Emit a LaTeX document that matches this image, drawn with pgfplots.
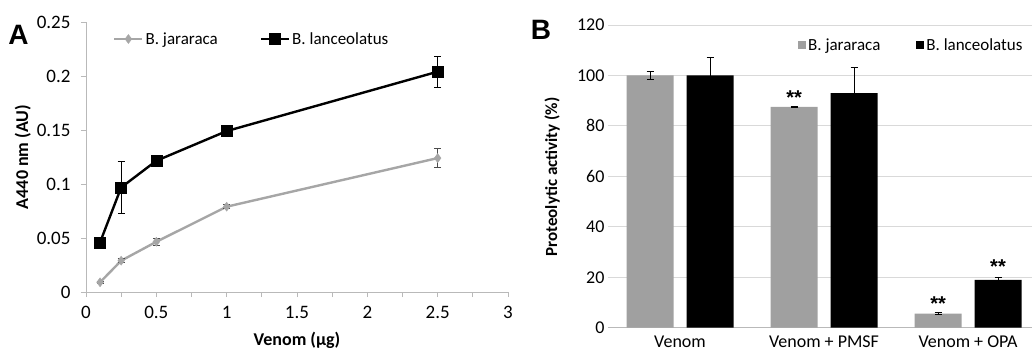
\documentclass[border=0pt]{standalone}
\usepackage{fontspec}
\setmainfont{Carlito}
\newfontfamily\arialfont{Liberation Sans}
\usepackage{pgfplots}
\pgfplotsset{compat=1.18}
\definecolor{linegray}{RGB}{166,166,166}
\definecolor{bargray}{RGB}{160,160,160}
\definecolor{axisgray}{RGB}{185,185,185}
\definecolor{gridgray}{RGB}{217,217,217}
\newcommand{\fs}{\fontsize{17}{20}\selectfont}
\newcommand{\fsa}{\fontsize{19}{22}\selectfont}
\newcommand{\fsb}{\fontsize{18}{21}\selectfont}
\newcommand{\fast}{\arialfont\fontsize{20}{22}\selectfont\bfseries}
\begin{document}
\begin{tikzpicture}
% ---------------- Panel A ----------------
\begin{axis}[
  at={(86pt,58pt)}, anchor=south west,
  scale only axis, width=422pt, height=270pt,
  xmin=0, xmax=3, ymin=0, ymax=0.25,
  axis x line*=bottom, axis y line*=left,
  axis line style={draw=axisgray, line width=0.8pt},
  xtick={0,0.5,1,1.5,2,2.5,3},
  xticklabels={0,0.5,1,1.5,2,2.5,3},
  minor xtick={0.25,0.75,1.25,1.75,2.25,2.75},
  ytick={0,0.05,0.1,0.15,0.2,0.25},
  yticklabels={0,0.05,0.1,0.15,0.2,0.25},
  tick align=outside, major tick length=5pt, minor tick length=5pt,
  tick style={draw=axisgray, line width=0.8pt},
  tick label style={font=\fsa},
  yticklabel style={xshift=-7pt},
  xticklabel style={yshift=-6pt},
  /pgf/number format/assume math mode=true,
  xlabel={Venom (µg)}, ylabel={A440 nm (AU)},
  label style={font=\fsb\bfseries},
  xlabel style={at={(axis description cs:0.5,-0.178)}, anchor=center},
  ylabel style={at={(axis description cs:-0.15,0.5)}, anchor=center},
  clip=false,
  legend columns=2,
  legend style={draw=none, fill=none, at={(axis description cs:0.064,0.937)}, anchor=west,
    font=\fs, inner sep=0pt,
    /tikz/every even column/.append style={column sep=40pt}},
  legend image code/.code={\draw[mark repeat=2,mark phase=2,#1] plot coordinates {(0pt,0pt) (14pt,0pt) (28pt,0pt)};},
]
\addplot[color=linegray, line width=2.4pt, mark=diamond*, mark size=4.5pt,
  mark options={fill=linegray, draw=linegray, line width=0.4pt},
  error bars/.cd, y dir=both, y explicit,
  error bar style={color=black!70, line width=0.8pt},
  error mark options={rotate=90, color=black!70, mark size=3.5pt, line width=0.8pt}]
  coordinates {(0.1,0.009) +- (0,0.001) (0.25,0.029) +- (0,0.002) (0.5,0.0465) +- (0,0.003) (1,0.079) +- (0,0.002) (2.5,0.124) +- (0,0.009)};
\addlegendentry{B. jararaca}
\addplot[color=black, line width=2.4pt, mark=square*, mark size=5.5pt,
  mark options={fill=black, line width=0.4pt},
  error bars/.cd, y dir=both, y explicit,
  error bar style={color=black, line width=0.8pt},
  error mark options={rotate=90, color=black, mark size=3.5pt, line width=0.8pt}]
  coordinates {(0.1,0.046) +- (0,0.001) (0.25,0.0968) +- (0,0.024) (0.5,0.1215) +- (0,0.002) (1,0.149) +- (0,0.002) (2.5,0.204) +- (0,0.0146)};
\addlegendentry{B. lanceolatus}
\node[font=\arialfont\fontsize{28}{30}\selectfont\bfseries, anchor=center] at (axis description cs:-0.16,0.953) {A};
\end{axis}
% ---------------- Panel B ----------------
\begin{axis}[
  at={(608pt,22.3pt)}, anchor=south west,
  scale only axis, width=424pt, height=302.7pt,
  ybar, bar width=47pt,
  xmin=-0.5, xmax=2.444, ymin=0, ymax=120,
  axis x line*=bottom, axis y line*=left,
  x axis line style={draw=axisgray, line width=0.8pt},
  y axis line style={draw=none},
  xtick={0,1,2},
  xticklabels={Venom, Venom + PMSF, Venom + OPA},
  ytick={0,20,40,60,80,100,120},
  yticklabels={0,20,40,60,80,100,120},
  tick style={draw=none},
  ymajorgrids, grid style={draw=gridgray, line width=0.8pt},
  tick label style={font=\fsb},
  /pgf/number format/assume math mode=true,
  ylabel={Proteolytic activity (\%)},
  label style={font=\fs\bfseries},
  ylabel style={at={(axis description cs:-0.132,0.498)}, anchor=center},
  clip=false,
  legend columns=2,
  legend style={draw=none, fill=none, at={(axis description cs:0.448,0.934)}, anchor=west,
    font=\fs, inner sep=0pt,
    /tikz/every even column/.append style={column sep=34pt}},
  legend image code/.code={\fill[#1] (0pt,-4pt) rectangle (8pt,4pt);},
]
\addplot[fill=bargray, draw=none, bar shift=-30pt,
  error bars/.cd, y dir=both, y explicit,
  error bar style={color=black, line width=0.8pt},
  error mark options={rotate=90, color=black, mark size=3.5pt, line width=0.8pt}]
  coordinates {(0,100) +- (0,1.7) (1,87.5) +- (0,0.3) (2,5.6) +- (0,0.3)};
\addlegendentry{B. jararaca}
\addplot[fill=black, draw=none, bar shift=30pt,
  error bars/.cd, y dir=both, y explicit,
  error bar style={color=black, line width=0.8pt},
  error mark options={rotate=90, color=black, mark size=3.5pt, line width=0.8pt}]
  coordinates {(0,100) +- (0,7) (1,93) +- (0,10) (2,19) +- (0,1.1)};
\addlegendentry{B. lanceolatus}
\node[font=\fast, anchor=base] at (axis cs:0.792,88.6) {**};
\node[font=\fast, anchor=base] at (axis cs:1.792,6.9) {**};
\node[font=\fast, anchor=base] at (axis cs:2.208,21.6) {**};
\node[font=\arialfont\fontsize{28}{30}\selectfont\bfseries, anchor=center] at (axis description cs:-0.158,0.983) {B};
\end{axis}
\pgfresetboundingbox
\useasboundingbox (0,0) rectangle (1032pt,350pt);
\end{tikzpicture}
\end{document}
